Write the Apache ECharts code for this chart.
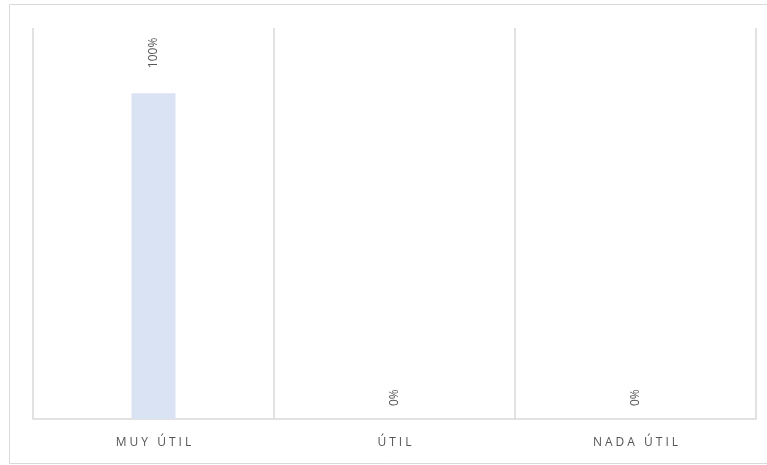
<!DOCTYPE html>
<html>
<head>
<meta charset="utf-8">
<script src="https://cdn.jsdelivr.net/npm/echarts@6/dist/echarts.min.js"></script>
<style>
  html, body { margin: 0; padding: 0; background: #ffffff; }
  #chart { width: 767px; height: 465px; }
</style>
</head>
<body>
<div id="chart"></div>
<script>
// Categories and shares (percent)
const categories = ['MUY ÚTIL', 'ÚTIL', 'NADA ÚTIL'];
const shares = [100, 0, 0];

// Spread letters apart, like spaced caps
function spaced(s) {
  return s.split('').join('\u2005');
}

const chart = echarts.init(document.getElementById('chart'), null, { renderer: 'canvas' });

const gridColor = '#d9d9d9';
const textColor = '#555555';

chart.setOption({
  animation: false,
  backgroundColor: '#ffffff',
  graphic: [{
    type: 'rect',
    shape: { x: 9.5, y: 4.5, width: 800, height: 459 },
    style: { fill: 'none', stroke: gridColor, lineWidth: 1 },
    silent: true,
    z: -1
  }],
  grid: { left: 33, right: 11, top: 28, bottom: 46, containLabel: false },
  xAxis: {
    type: 'category',
    data: categories,
    axisLine: { show: true, lineStyle: { color: gridColor, width: 1.5 } },
    axisTick: { show: false },
    splitLine: { show: true, interval: 0, lineStyle: { color: gridColor, width: 1.5 } },
    axisLabel: {
      color: textColor,
      fontFamily: 'Open Sans',
      fontSize: 12,
      margin: 18,
      formatter: spaced
    }
  },
  yAxis: {
    type: 'value',
    min: 0,
    max: 120,
    show: false,
    splitLine: { show: false }
  },
  series: [{
    type: 'bar',
    data: shares.map(v => ({
      value: v,
      label: { distance: v > 0 ? 25 : 13 }
    })),
    barWidth: 44,
    itemStyle: { color: '#dae3f3' },
    label: {
      show: true,
      position: 'top',
      rotate: 90,
      align: 'left',
      verticalAlign: 'middle',
      color: textColor,
      fontFamily: 'Open Sans',
      fontSize: 12,
      formatter: p => p.value + '%'
    }
  }]
});
</script>
</body>
</html>
